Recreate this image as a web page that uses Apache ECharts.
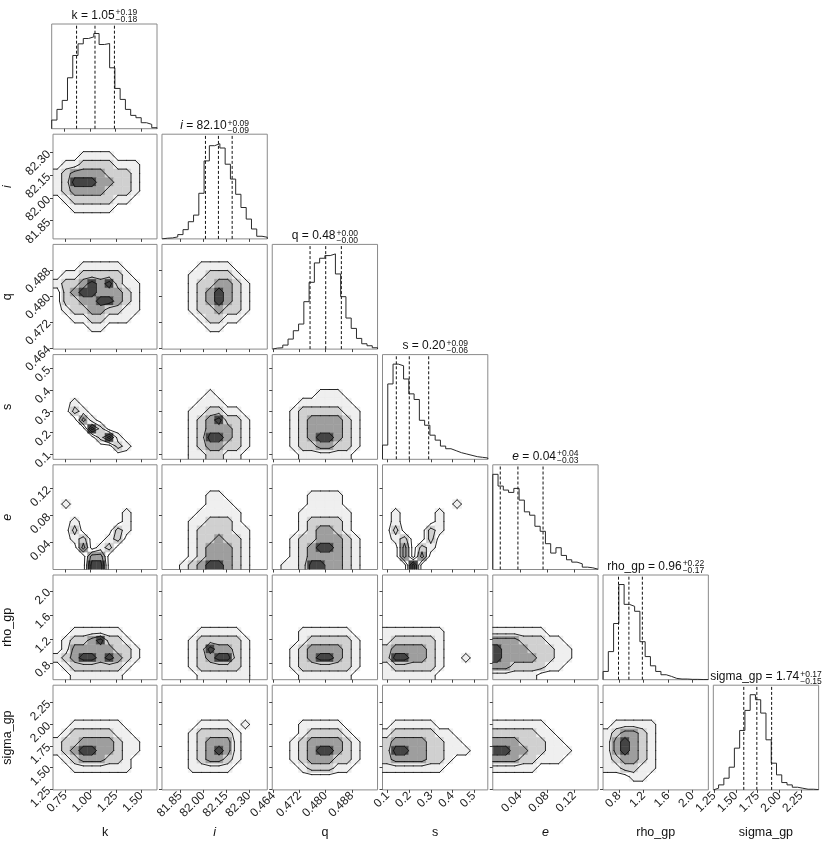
<!DOCTYPE html>
<html>
<head>
<meta charset="utf-8">
<script src="https://cdn.jsdelivr.net/npm/echarts@6/dist/echarts.min.js"></script>
</head>
<body style="margin:0;background:#fff">
<div id="chart" style="width:830px;height:843px"></div>
<script>
// parameters and axis ranges
var names = ['k', 'i', 'q', 's', 'e', 'rho_gp', 'sigma_gp'];
var italicName = [false, true, false, false, true, false, false];
var ranges = [[0.627, 1.656], [81.73, 82.42], [0.4636, 0.4959], [0.076, 0.564], [0, 0.155], [0.537, 2.26], [1.24, 2.45]];
var tickVals = [[0.75, 1.00, 1.25, 1.50], [81.85, 82.00, 82.15, 82.30], [0.464, 0.472, 0.480, 0.488],
    [0.1, 0.2, 0.3, 0.4, 0.5], [0.04, 0.08, 0.12], [0.8, 1.2, 1.6, 2.0], [1.25, 1.50, 1.75, 2.00, 2.25]];
var tickDigits = [2, 2, 3, 1, 2, 1, 2];
var quantiles = [[0.87, 1.05, 1.24], [82.015, 82.10, 82.19], [0.4752, 0.4800, 0.4848], [0.14, 0.20, 0.29],
    [0.011, 0.037, 0.074], [0.79, 0.96, 1.18], [1.59, 1.74, 1.91]];
var medianText = ['1.05', '82.10', '0.48', '0.20', '0.04', '0.96', '1.74'];
var plusText = ['+0.19', '+0.09', '+0.00', '+0.09', '+0.04', '+0.22', '+0.17'];
var minusText = ['\u22120.18', '\u22120.09', '\u22120.00', '\u22120.06', '\u22120.03', '\u22120.17', '\u22120.15'];

// 1D histograms, 20 bins over each range
var hist_k = [26, 58, 85, 153, 220, 255, 271, 276, 286, 253, 256, 183, 121, 88, 58, 40, 33, 18, 13, 3];
var hist_i = [2, 3, 6, 13, 28, 52, 72, 138, 236, 282, 288, 275, 226, 181, 135, 95, 60, 30, 8, 5];
var hist_q = [3, 4, 12, 30, 55, 75, 142, 200, 258, 272, 280, 285, 225, 157, 93, 62, 32, 16, 10, 4];
var hist_s = [43, 228, 288, 283, 243, 198, 181, 118, 103, 73, 58, 40, 32, 26, 20, 16, 12, 8, 6, 4];
var hist_e = [284, 249, 237, 230, 242, 207, 172, 162, 129, 114, 77, 49, 65, 42, 29, 22, 17, 7, 5, 1];
var hist_rho = [25, 85, 170, 288, 228, 222, 207, 115, 70, 42, 25, 15, 10, 4, 2, 2, 1, 1, 0.5, 0.5];
var hist_sigma = [5, 15, 35, 68, 125, 178, 238, 285, 270, 230, 150, 80, 45, 22, 15, 8, 5, 2, 2, 1];

// 2D density levels (0 = outside outer contour ... 4 = inside inner), 12x12, rows top to bottom
var Z = '000000000000';
var dens_i_k = [Z, Z, '000111100000', '011222211100', '123333222100', '124443322100',
    '123333222100', '012222211000', '001111100000', Z, Z, Z];
var dens_q_k = [Z, Z, '000111110000', '011222221000', '122343421100', '023443332100',
    '022334432100', '012233221100', '001122111000', '000011000000', Z, Z];
var dens_q_i = [Z, Z, '000011110000', '000112221000', '000122332100', '000123432100',
    '000123432100', '000122322100', '000012211000', '000001100000', Z, Z];
var dens_s_k = [Z, Z, Z, Z, Z, '001000000000', '002100000000', '000310000000',
    '000042000000', '000002410000', '000000021000', Z];
var dens_s_i = [Z, Z, Z, Z, '000001000000', '000011100000', '000112211000', '000123422100',
    '000123332100', '000124432100', '000123322100', '000112211000'];
var dens_s_q = [Z, Z, Z, Z, '000001110000', '000111111000', '001222221100', '001233332100',
    '001233332100', '001234432100', '001223322100', '000111111000'];
var dens_e_k = [Z, Z, Z, Z, '010000000000', '000000001000', '001000001000', '002000021000',
    '001200120000', '000301200000', '000033000000', '000044000000'];
var dens_e_i = [Z, Z, Z, '000001100000', '000001110000', '000011111000', '000112221000', '000122221100',
    '000122322100', '000123332100', '000123332100', '001234432100'];
var dens_e_q = [Z, Z, Z, '000011110000', '000011110000', '000111111000', '000122221000', '000123321000',
    '001223332100', '001234432100', '001233332100', '011244332100'];
var dens_e_s = [Z, Z, Z, Z, '000000001000', '010000100000', '010000100000', '020002100000',
    '012002000000', '003021000000', '003030000000', '000400000000'];
var dens_rho_k = [Z, Z, Z, Z, Z, Z, '001111110000', '012234221000',
    '013333322100', '123443432100', '012222221000', '001111110000'];
var dens_rho_i = [Z, Z, Z, Z, Z, Z, '000011111000', '000122222100',
    '000124332100', '000123442100', '000122222100', '000011111100'];
var dens_rho_q = [Z, Z, Z, Z, Z, Z, '000111111000', '000122222100',
    '001233332100', '001234432100', '001222222100', '000111111000'];
var dens_rho_s = [Z, Z, Z, Z, Z, Z, '111111100000', '122222100000',
    '233332100000', '244332100100', '122222100000', '111111000000'];
var dens_rho_e = [Z, Z, Z, Z, Z, Z, '111111000000', '333222110000',
    '433322211000', '433332211000', '332222110000', '111110000000'];
var dens_sig_k = [Z, Z, Z, Z, '001111110000', '012222211000', '122333321100', '123443321100',
    '012333221000', '001111111000', Z, Z];
var dens_sig_i = [Z, Z, Z, Z, '000011110100', '000122221000', '000123331000', '000123431000',
    '000123321000', '000111110000', Z, Z];
var dens_sig_q = [Z, Z, Z, Z, '000111110000', '000122221000', '001233332100', '001234432100',
    '001233322100', '000122211000', Z, Z];
var dens_sig_s = [Z, Z, Z, Z, '011111000000', '122222110000', '233332211000', '244332211100',
    '233332210000', '111111100000', Z, Z];
var dens_sig_e = [Z, Z, Z, Z, '111111000000', '222221100000', '333222110000', '443322111000',
    '333221110000', '111110000000', Z, Z];
var dens_sig_rho = [Z, Z, Z, Z, '011111000000', '123321000000', '134321000000', '134321000000',
    '123321000000', '112211000000', '000110000000', Z];

var hists = [hist_k, hist_i, hist_q, hist_s, hist_e, hist_rho, hist_sigma];
var densTable = [[], [dens_i_k], [dens_q_k, dens_q_i], [dens_s_k, dens_s_i, dens_s_q],
    [dens_e_k, dens_e_i, dens_e_q, dens_e_s], [dens_rho_k, dens_rho_i, dens_rho_q, dens_rho_s, dens_rho_e],
    [dens_sig_k, dens_sig_i, dens_sig_q, dens_sig_s, dens_sig_e, dens_sig_rho]];

var LEFT = 51.7, TOP = 24, DX = 110.27, DY = 110.2, PW = 105.3, PH = 104.7, N = 12;
var FONT = "'Liberation Sans', Arial, sans-serif";
var levelFill = ['#ffffff', '#efefef', '#d0d0d0', '#9e9e9e', '#444444'];
var contourLevels = [0.5, 1.5, 2.5, 3.5];

function stepPoints(h, rg) {
    var w = (rg[1] - rg[0]) / h.length, pts = [[rg[0], 0]];
    for (var k = 0; k < h.length; k++) {
        pts.push([rg[0] + k * w, h[k]]);
        pts.push([rg[0] + (k + 1) * w, h[k]]);
    }
    pts.push([rg[1], 0]);
    return pts;
}

function cellData(dens, xr, yr) {
    var wx = (xr[1] - xr[0]) / N, wy = (yr[1] - yr[0]) / N, out = [];
    for (var row = 0; row < N; row++) {
        for (var col = 0; col < N; col++) {
            var lv = +dens[row].charAt(col), iy = N - 1 - row;
            if (lv > 0) out.push([xr[0] + col * wx, yr[0] + iy * wy, xr[0] + (col + 1) * wx, yr[0] + (iy + 1) * wy, lv]);
        }
    }
    return out;
}

function padded(rg) {
    var w = (rg[1] - rg[0]) / N, p = [rg[0]];
    for (var k = 0; k < N; k++) p.push(rg[0] + (k + 0.5) * w);
    p.push(rg[1]);
    return p;
}

// marching squares on the level grid
function contourSegments(dens, xr, yr) {
    var gx = padded(xr), gy = padded(yr), segs = [];
    function v(ix, iy) {
        var cx = Math.min(N - 1, Math.max(0, ix - 1)), cy = Math.min(N - 1, Math.max(0, iy - 1));
        return +dens[N - 1 - cy].charAt(cx);
    }
    function seg(a, b) { return [a[0], a[1], b[0], b[1]]; }
    for (var ix = 0; ix <= N; ix++) {
        for (var iy = 0; iy <= N; iy++) {
            var x0 = gx[ix], x1 = gx[ix + 1], y0 = gy[iy], y1 = gy[iy + 1];
            var cn = [[x0, y0, v(ix, iy)], [x1, y0, v(ix + 1, iy)], [x1, y1, v(ix + 1, iy + 1)], [x0, y1, v(ix, iy + 1)]];
            contourLevels.forEach(function (t) {
                var pts = [];
                for (var k = 0; k < 4; k++) {
                    var a = cn[k], b = cn[(k + 1) % 4];
                    if ((a[2] > t) !== (b[2] > t)) {
                        var f = (t - a[2]) / (b[2] - a[2]);
                        pts.push([a[0] + f * (b[0] - a[0]), a[1] + f * (b[1] - a[1])]);
                    }
                }
                if (pts.length === 2) segs.push(seg(pts[0], pts[1]));
                else if (pts.length === 4) {
                    var mid = (cn[0][2] + cn[1][2] + cn[2][2] + cn[3][2]) / 4;
                    if ((mid > t) === (cn[0][2] > t)) { segs.push(seg(pts[0], pts[1])); segs.push(seg(pts[2], pts[3])); }
                    else { segs.push(seg(pts[3], pts[0])); segs.push(seg(pts[1], pts[2])); }
                }
            });
        }
    }
    return segs;
}

function renderCell(params, api) {
    var a = api.coord([api.value(0), api.value(1)]), b = api.coord([api.value(2), api.value(3)]);
    var col = levelFill[api.value(4)];
    return {type: 'rect', shape: {x: a[0], y: b[1], width: b[0] - a[0], height: a[1] - b[1]},
        style: {fill: col, stroke: col, lineWidth: 0.6}};
}

function renderSeg(params, api) {
    var a = api.coord([api.value(0), api.value(1)]), b = api.coord([api.value(2), api.value(3)]);
    return {type: 'line', shape: {x1: a[0], y1: a[1], x2: b[0], y2: b[1]},
        style: {stroke: '#111', lineWidth: 0.9, lineCap: 'round'}};
}

function fmt(d) { return function (v) { return v.toFixed(d); }; }

var ctx = document.createElement('canvas').getContext('2d');
function textW(s, size) { ctx.font = size + 'px ' + FONT; return ctx.measureText(s).width; }

var grids = [], xAxes = [], yAxes = [], series = [], graphics = [];

for (var r = 0; r < 7; r++) {
    for (var c = 0; c <= r; c++) {
        var g = grids.length;
        var panelTop = TOP + r * DY, panelLeft = LEFT + c * DX;
        grids.push({left: panelLeft, top: panelTop, width: PW, height: PH, show: true,
            borderColor: '#8a8a8a', borderWidth: 1, z: 3});
        xAxes.push({
            type: 'value', gridIndex: g, min: ranges[c][0], max: ranges[c][1], z: 3,
            axisLine: {show: false}, splitLine: {show: false},
            axisTick: {show: true, customValues: tickVals[c], length: 3, lineStyle: {color: '#444'}},
            axisLabel: {show: r === 6, customValues: tickVals[c], formatter: fmt(tickDigits[c]), rotate: 45,
                fontSize: 12, color: '#222', fontFamily: FONT, margin: 4},
            name: r === 6 ? names[c] : '', nameLocation: 'middle', nameGap: 36,
            nameTextStyle: {fontSize: 12.5, color: '#111', fontFamily: FONT, fontStyle: italicName[c] ? 'italic' : 'normal'}
        });
        if (r === c) {
            var ymax = Math.max.apply(null, hists[c]) * 1.1;
            yAxes.push({type: 'value', gridIndex: g, min: 0, max: ymax, show: false});
            series.push({
                type: 'line', xAxisIndex: g, yAxisIndex: g, data: stepPoints(hists[c], ranges[c]),
                symbol: 'none', lineStyle: {color: '#2a2a2a', width: 1}, clip: true, z: 4, silent: true
            });
            quantiles[c].forEach(function (qv) {
                series.push({type: 'line', xAxisIndex: g, yAxisIndex: g, data: [[qv, 0], [qv, ymax]],
                    symbol: 'none', lineStyle: {color: '#111', width: 1, type: [3, 2]}, z: 5, silent: true});
            });
            // title with stacked errors
            var isIt = italicName[c];
            var mainStr = names[c] + ' = ' + medianText[c];
            var mw = textW(mainStr, 12), sw = Math.max(textW(plusText[c], 8.5), textW(minusText[c], 8.5));
            var cx = panelLeft + PW / 2;
            var anchor = cx - (mw + 1 + sw) / 2 + mw;
            graphics.push({type: 'text', x: anchor, y: panelTop - 8.5, silent: true,
                style: {text: (isIt ? '{it|' + names[c] + '}' : names[c]) + ' = ' + medianText[c],
                    rich: {it: {fontStyle: 'italic', fontSize: 12, fontFamily: FONT, fill: '#111'}},
                    fontSize: 12, fontFamily: FONT, fill: '#111', align: 'right', verticalAlign: 'middle'}});
            graphics.push({type: 'text', x: anchor + 1, y: panelTop - 11, silent: true,
                style: {text: plusText[c], fontSize: 8.5, fontFamily: FONT, fill: '#111', align: 'left', verticalAlign: 'middle'}});
            graphics.push({type: 'text', x: anchor + 1, y: panelTop - 4, silent: true,
                style: {text: minusText[c], fontSize: 8.5, fontFamily: FONT, fill: '#111', align: 'left', verticalAlign: 'middle'}});
        } else {
            yAxes.push({
                type: 'value', gridIndex: g, min: ranges[r][0], max: ranges[r][1], z: 3,
                axisLine: {show: false}, splitLine: {show: false},
                axisTick: {show: true, customValues: tickVals[r], length: 3, lineStyle: {color: '#444'}},
                axisLabel: {show: c === 0, customValues: tickVals[r], formatter: fmt(tickDigits[r]), rotate: 45,
                    fontSize: 12, color: '#222', fontFamily: FONT, margin: 4},
                name: c === 0 ? names[r] : '', nameLocation: 'middle', nameGap: 39,
                nameTextStyle: {fontSize: 12.5, color: '#111', fontFamily: FONT, fontStyle: italicName[r] ? 'italic' : 'normal'}
            });
            var dens = densTable[r][c];
            series.push({type: 'custom', xAxisIndex: g, yAxisIndex: g, data: cellData(dens, ranges[c], ranges[r]),
                renderItem: renderCell, encode: {x: [0, 2], y: [1, 3]}, clip: true, silent: true, z: 2});
            series.push({type: 'custom', xAxisIndex: g, yAxisIndex: g, data: contourSegments(dens, ranges[c], ranges[r]),
                renderItem: renderSeg, encode: {x: [0, 2], y: [1, 3]}, clip: true, silent: true, z: 4});
        }
    }
}

var chart = echarts.init(document.getElementById('chart'));
chart.setOption({
    animation: false,
    backgroundColor: '#ffffff',
    grid: grids,
    xAxis: xAxes,
    yAxis: yAxes,
    series: series,
    graphic: graphics
});
</script>
</body>
</html>
